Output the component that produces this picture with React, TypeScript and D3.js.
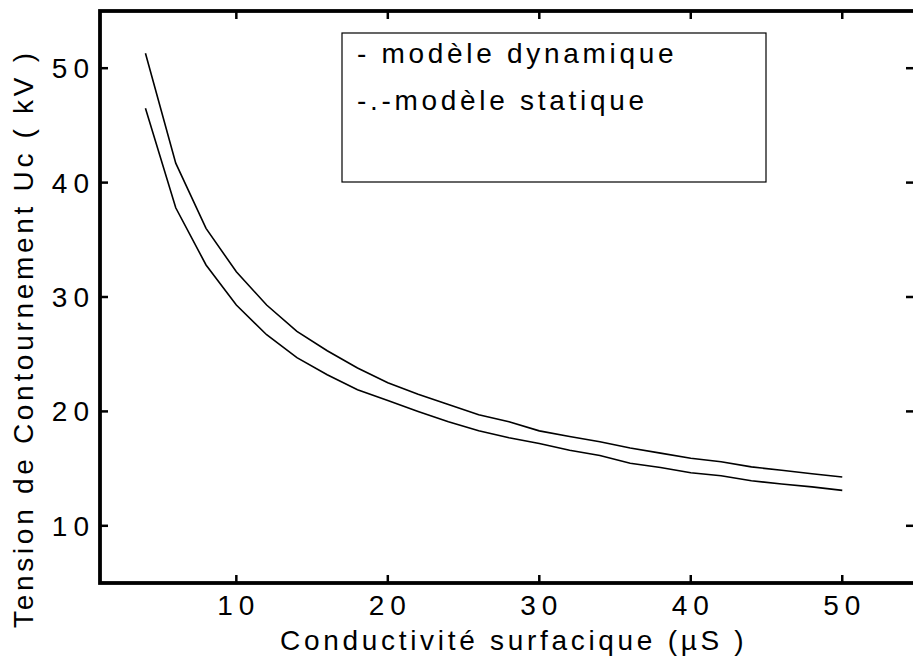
import React from "react";
import * as d3 from "d3";

const conductivite = [4, 6, 8, 10, 12, 14, 16, 18, 20, 22, 24, 26, 28, 30, 32, 34, 36, 38, 40, 42, 44, 46, 48, 50];
const modeleDynamique = [51.3, 41.7, 36.0, 32.2, 29.3, 27.0, 25.3, 23.8, 22.5, 21.5, 20.6, 19.7, 19.1, 18.3, 17.8, 17.35, 16.8, 16.35, 15.9, 15.6, 15.15, 14.85, 14.55, 14.27];
const modeleStatique = [46.5, 37.8, 32.8, 29.3, 26.7, 24.7, 23.2, 21.9, 20.95, 20.0, 19.1, 18.3, 17.7, 17.2, 16.6, 16.15, 15.46, 15.1, 14.64, 14.38, 13.94, 13.65, 13.4, 13.1];
const xTicks = [10, 20, 30, 40, 50];
const yTicks = [10, 20, 30, 40, 50];
const legendLabels = ["- modèle dynamique", "-.-modèle statique"];
const xTitle = "Conductivité surfacique (µS )";
const yTitle = "Tension de Contournement Uc ( kV )";

const W = 913;
const H = 662;
const FONT = "'Liberation Sans', Arial, Helvetica, sans-serif";
const FS = 28;
const LS = 3.7;
const TICK_LS = 6;

export default function App() {
  const x = d3.scaleLinear().domain([1, 55]).range([100, 918]);
  const y = d3.scaleLinear().domain([5, 55]).range([583, 11]);
  const line = d3
    .line<number>()
    .x((_, i) => x(conductivite[i]))
    .y((d) => y(d));

  const left = x(1);
  const right = x(55);
  const top = y(55);
  const bottom = y(5);

  return (
    <svg
      width={W}
      height={H}
      style={{ position: "absolute", left: 0, top: 0, background: "#fff" }}
      fontFamily={FONT}
    >
      <rect x={0} y={0} width={W} height={H} fill="#fff" />
      {/* curves */}
      <path d={line(modeleDynamique) || ""} fill="none" stroke="#000" strokeWidth={1.6} />
      <path d={line(modeleStatique) || ""} fill="none" stroke="#000" strokeWidth={1.6} />

      {/* legend */}
      <rect x={342} y={33} width={424} height={149} fill="none" stroke="#000" strokeWidth={1.2} />
      {legendLabels.map((t, i) => (
        <text key={t} x={357} y={63 + i * 47} fontSize={FS} letterSpacing={LS} fill="#000">
          {t}
        </text>
      ))}

      {/* frame */}
      <rect x={left} y={top} width={right - left} height={bottom - top} fill="none" stroke="#000" strokeWidth={3.8} />

      {/* x ticks */}
      {xTicks.map((t) => (
        <g key={"x" + t}>
          <line x1={x(t)} x2={x(t)} y1={bottom} y2={bottom - 8} stroke="#000" strokeWidth={2.5} />
          <line x1={x(t)} x2={x(t)} y1={top} y2={top + 8} stroke="#000" strokeWidth={2.5} />
          <text x={x(t) + 2.5} y={615} textAnchor="middle" fontSize={FS} letterSpacing={TICK_LS} fill="#000">
            {t}
          </text>
        </g>
      ))}

      {/* y ticks */}
      {yTicks.map((t) => (
        <g key={"y" + t}>
          <line x1={left} x2={left + 8} y1={y(t)} y2={y(t)} stroke="#000" strokeWidth={2.5} />
          <line x1={right} x2={right - 12} y1={y(t)} y2={y(t)} stroke="#000" strokeWidth={2.5} />
          <text x={95} y={y(t) + 10} textAnchor="end" fontSize={FS} letterSpacing={TICK_LS} fill="#000">
            {t}
          </text>
        </g>
      ))}

      {/* titles */}
      <text x={280} y={650} fontSize={FS} letterSpacing={LS} fill="#000">
        {xTitle}
      </text>
      <text
        transform={`translate(32.5,628) rotate(-90)`}
        fontSize={FS}
        letterSpacing={LS}
        fill="#000"
      >
        {yTitle}
      </text>
    </svg>
  );
}
